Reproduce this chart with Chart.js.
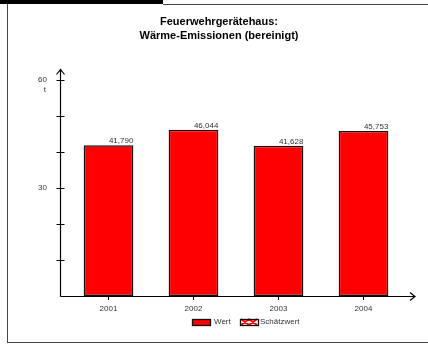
<!DOCTYPE html>
<html>
<head>
<meta charset="utf-8">
<script src="https://cdn.jsdelivr.net/npm/chart.js@4"></script>
<style>
  html, body { margin: 0; padding: 0; background: #fff; }
  #wrap { width: 428px; height: 345px; position: relative; }
</style>
</head>
<body>
<div id="wrap"><canvas id="chart" width="428" height="345"></canvas></div>
<script>
// chart data
const categories = ['2001', '2002', '2003', '2004'];
const wert = [41.790, 46.044, 41.628, 45.753];
const yLabelled = [30, 60];
const yUnit = 't';
const titleLines = ['Feuerwehrgerätehaus:', 'Wärme-Emissionen (bereinigt)'];
const legendLabels = ['Wert', 'Schätzwert'];

const FONT = "'Liberation Sans', Arial, sans-serif";
const fmt = v => v.toFixed(3).replace('.', ',');

// frame, axes with arrows, tick marks, value labels, legend
const decor = {
  id: 'decor',
  afterDraw(chart) {
    const ctx = chart.ctx;
    const area = chart.chartArea;
    const y = chart.scales.y;
    ctx.save();

    // outer frame
    ctx.fillStyle = '#000';
    ctx.fillRect(0, 0, 163, 4);
    ctx.strokeStyle = '#444';
    ctx.lineWidth = 1;
    ctx.beginPath();
    ctx.moveTo(7.5, 4); ctx.lineTo(7.5, 343);
    ctx.moveTo(163, 4.5); ctx.lineTo(428, 4.5);
    ctx.moveTo(7, 342.5); ctx.lineTo(428, 342.5);
    ctx.stroke();

    // axes
    const ax = Math.round(area.left - 6) + 0.5;
    const ay = Math.round(y.getPixelForValue(0)) + 0.5;
    const top = y.getPixelForValue(y.max) - 10;
    const right = area.right + 9;
    ctx.strokeStyle = '#000';
    ctx.lineWidth = 1.2;
    ctx.beginPath();
    ctx.moveTo(ax, ay); ctx.lineTo(ax, top);
    ctx.moveTo(ax - 4, top + 5); ctx.lineTo(ax, top); ctx.lineTo(ax + 4, top + 5);
    ctx.moveTo(ax, ay); ctx.lineTo(right, ay);
    ctx.moveTo(right - 5, ay - 4); ctx.lineTo(right, ay); ctx.lineTo(right - 5, ay + 4);
    ctx.stroke();

    // y tick marks crossing the axis
    ctx.lineWidth = 1;
    ctx.beginPath();
    y.ticks.forEach(t => {
      if (t.value === 0) return;
      const py = Math.round(y.getPixelForValue(t.value)) + 0.5;
      ctx.moveTo(ax - 4, py); ctx.lineTo(ax + 4, py);
    });
    ctx.stroke();

    // unit under the top label
    ctx.fillStyle = '#333';
    ctx.font = '8px ' + FONT;
    ctx.textAlign = 'right';
    ctx.textBaseline = 'middle';
    ctx.fillText(yUnit, area.left - 20, y.getPixelForValue(y.max) + 10);

    // value labels, right-aligned to bar edge
    const meta = chart.getDatasetMeta(0);
    ctx.textBaseline = 'alphabetic';
    meta.data.forEach((bar, i) => {
      ctx.fillText(fmt(wert[i]), bar.x + bar.width / 2, bar.y - 2);
    });

    // legend
    const ly = 322;
    let lx = 192;
    ctx.textAlign = 'left';
    ctx.textBaseline = 'middle';
    ctx.fillStyle = '#ff0000';
    ctx.fillRect(lx, ly - 3, 18, 6);
    ctx.strokeStyle = '#111';
    ctx.lineWidth = 1.3;
    ctx.strokeRect(lx + 0.5, ly - 2.5, 18, 6);
    ctx.fillStyle = '#333';
    ctx.fillText(legendLabels[0], lx + 22, ly);
    lx = 240;
    ctx.fillStyle = '#fff';
    ctx.fillRect(lx, ly - 3, 18, 6);
    ctx.strokeStyle = '#ff0000';
    ctx.lineWidth = 2;
    ctx.beginPath();
    ctx.moveTo(lx + 1, ly - 3); ctx.lineTo(lx + 9, ly + 3);
    ctx.moveTo(lx + 9, ly - 3); ctx.lineTo(lx + 1, ly + 3);
    ctx.moveTo(lx + 9, ly - 3); ctx.lineTo(lx + 17, ly + 3);
    ctx.moveTo(lx + 17, ly - 3); ctx.lineTo(lx + 9, ly + 3);
    ctx.stroke();
    ctx.strokeStyle = '#111';
    ctx.lineWidth = 1.3;
    ctx.strokeRect(lx + 0.5, ly - 2.5, 18, 6);
    ctx.fillStyle = '#333';
    ctx.fillText(legendLabels[1], lx + 20, ly);

    ctx.restore();
  }
};

new Chart(document.getElementById('chart'), {
  type: 'bar',
  data: {
    labels: categories,
    datasets: [{
      label: legendLabels[0],
      data: wert,
      backgroundColor: '#ff0000',
      borderColor: '#111',
      borderWidth: 1.5,
      borderSkipped: false,
      barPercentage: 0.585,
      categoryPercentage: 1
    }]
  },
  options: {
    responsive: false,
    animation: false,
    layout: { padding: { left: 32, right: 22, top: 0, bottom: 29 } },
    plugins: {
      legend: { display: false },
      tooltip: { enabled: false },
      title: {
        display: true,
        text: titleLines,
        color: '#000',
        font: { family: FONT, size: 11, weight: 'bold', lineHeight: 1.25 },
        padding: { top: 15, bottom: 37 }
      }
    },
    scales: {
      x: {
        offset: true,
        grid: { display: true, drawOnChartArea: false, drawTicks: true, tickLength: 4, offset: false, color: '#000' },
        border: { display: false },
        ticks: { color: '#333', font: { family: FONT, size: 8 }, padding: 4, maxRotation: 0 },
        afterFit(s) { s.height = 20; }
      },
      y: {
        min: 0,
        max: 60,
        grid: { display: false, drawTicks: false },
        border: { display: false },
        ticks: {
          stepSize: 10,
          color: '#333',
          font: { family: FONT, size: 8 },
          padding: 19,
          callback: v => yLabelled.includes(v) ? v : ''
        },
        afterFit(s) { s.width = 34; }
      }
    }
  },
  plugins: [decor]
});
</script>
</body>
</html>
